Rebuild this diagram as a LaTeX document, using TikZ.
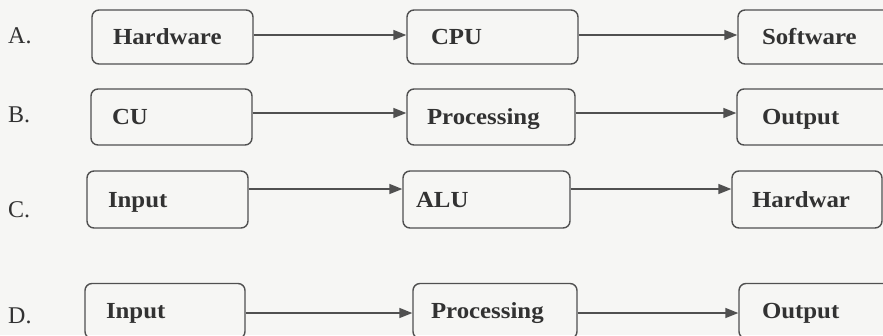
\documentclass[tikz,border=0pt]{standalone}
\usepackage{fontspec}
\setmainfont{Liberation Serif}
\usepackage{graphicx}
\usetikzlibrary{arrows.meta}
\definecolor{bg}{RGB}{246,246,244}
\definecolor{ink}{RGB}{50,50,50}
\definecolor{edgec}{RGB}{80,80,80}
\newcommand{\bxt}[1]{\scalebox{1.08}[1]{#1}}
\tikzset{
  box/.style={draw=edgec, line width=1.4pt, rounded corners=7pt, text=ink,
    font=\fontsize{23}{26}\selectfont\bfseries, align=left, inner ysep=0pt,
    text height=15pt, text depth=0pt},
  arr/.style={draw=edgec, line width=1.4pt, -{Triangle[length=13pt,width=10pt]}},
  optlbl/.style={text=ink, font=\fontsize{24}{27}\selectfont, anchor=west, inner sep=0pt},
}
\begin{document}
\begin{tikzpicture}[x=1pt,y=-1pt]
\useasboundingbox (0,0) rectangle (883,335);
\fill[bg] (0,0) rectangle (883,335);
\clip (0,0) rectangle (883,335);
% option labels
\node[optlbl] (la) at (8,36) {A.};
\node[optlbl] (lb) at (8,115) {B.};
\node[optlbl] (lc) at (8,210) {C.};
\node[optlbl] (ld) at (8,316) {D.};
% row A
\node[box, minimum height=54pt, text width=119pt, inner xsep=21pt] (a1) at (172.5,37) {\bxt{Hardware}};
\node[box, minimum height=54pt, text width=123pt, inner xsep=24pt] (a2) at (492.5,37) {\bxt{CPU}};
\node[box, minimum height=54pt, text width=114pt, inner xsep=24pt] (a3) at (819,37) {\bxt{Software}};
% row B
\node[box, minimum height=56pt, text width=119pt, inner xsep=21pt] (b1) at (171.5,117) {\bxt{CU}};
\node[box, minimum height=56pt, text width=128pt, inner xsep=20pt] (b2) at (491,117) {\bxt{Processing}};
\node[box, minimum height=56pt, text width=113pt, inner xsep=25pt] (b3) at (818.5,117) {\bxt{Output}};
% row C
\node[box, minimum height=57pt, text width=119pt, inner xsep=21pt] (c1) at (167.5,199.5) {\bxt{Input}};
\node[box, minimum height=57pt, text width=141pt, inner xsep=13pt] (c2) at (486.5,199.5) {\bxt{ALU}};
\node[box, minimum height=57pt, text width=110pt, inner xsep=20pt] (c3) at (807,199.5) {\bxt{Hardwar}};
% row D
\node[box, minimum height=55pt, text width=118pt, inner xsep=21pt] (d1) at (165,311) {\bxt{Input}};
\node[box, minimum height=55pt, text width=128pt, inner xsep=18pt] (d2) at (495,311) {\bxt{Processing}};
\node[box, minimum height=55pt, text width=115pt, inner xsep=23pt] (d3) at (819.5,311) {\bxt{Output}};
% arrow heights
\coordinate (ya) at (0,35);
\coordinate (yb) at (0,113);
\coordinate (yc) at (0,189);
\coordinate (yd) at (0,313);
\draw[arr] (a1.east |- ya) -- (a2.west |- ya);
\draw[arr] (a2.east |- ya) -- (a3.west |- ya);
\draw[arr] (b1.east |- yb) -- (b2.west |- yb);
\draw[arr] (b2.east |- yb) -- (b3.west |- yb);
\draw[arr] (c1.east |- yc) -- (c2.west |- yc);
\draw[arr] (c2.east |- yc) -- (c3.west |- yc);
\draw[arr] (d1.east |- yd) -- (d2.west |- yd);
\draw[arr] (d2.east |- yd) -- (d3.west |- yd);
\end{tikzpicture}
\end{document}
